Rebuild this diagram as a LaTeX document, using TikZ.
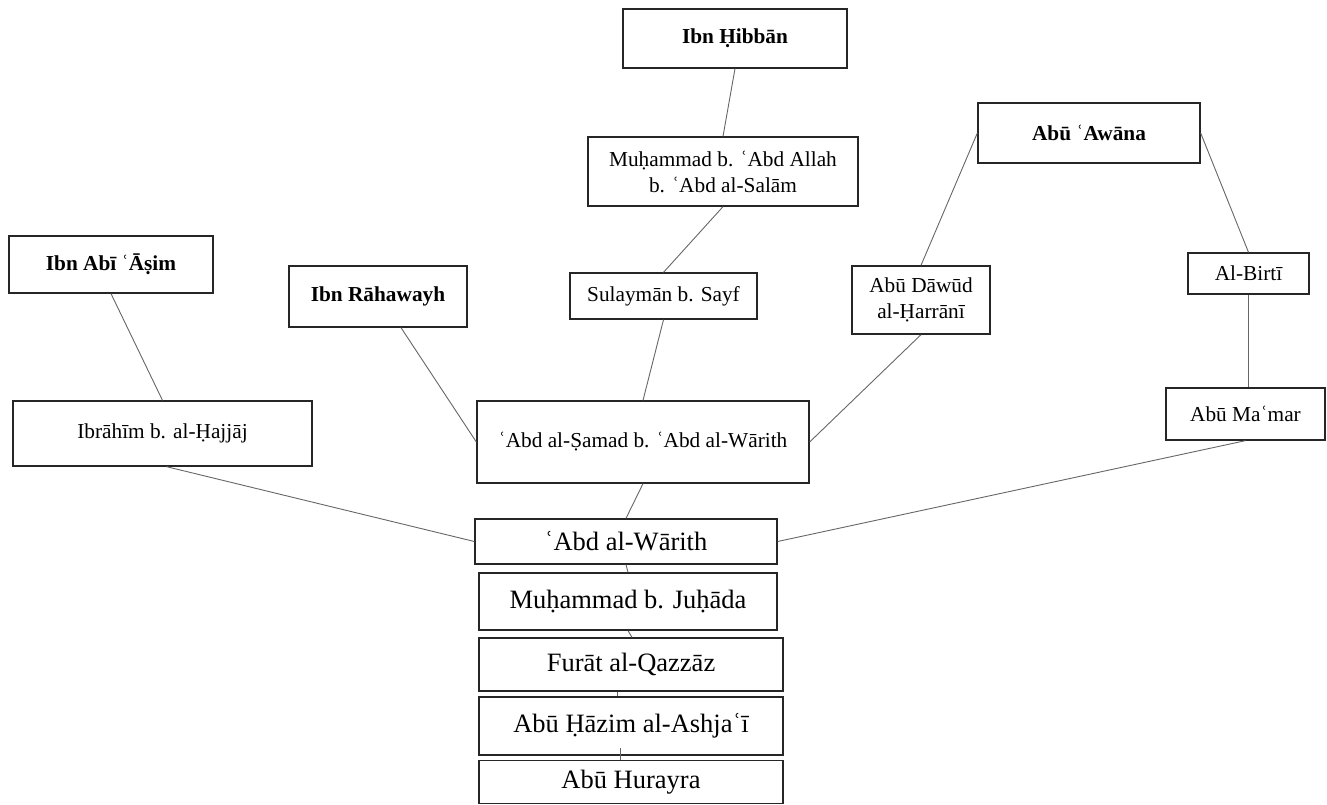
\documentclass[tikz,border=0pt]{standalone}
\usepackage{fontspec}
\setmainfont{Liberation Serif}
\usetikzlibrary{calc}
\begin{document}
\begin{tikzpicture}[x=1pt,y=-1pt,
  box/.style={draw=black!85, line width=1.3pt, fill=white, inner sep=0pt,
    align=center, font=\fontsize{21.3}{26}\selectfont},
  head/.style={box, font=\fontsize{21.3}{26}\selectfont\bfseries},
  chain/.style={box, font=\fontsize{26.5}{30}\selectfont},
  link/.style={draw=black!60, line width=0.9pt}]
\useasboundingbox (0,0) rectangle (1327,805);

% collectors
\node[head, minimum width=224, minimum height=59] (hibban) at (735,38.5) {Ibn Ḥibbān};
\node[head, minimum width=204, minimum height=57] (asim) at (111,264.5) {Ibn Abī ʿĀṣim};
\node[head, minimum width=178, minimum height=61] (rahaw) at (378,296.5) {Ibn Rāhawayh};
\node[head, minimum width=222, minimum height=60] (awana) at (1089,133) {Abū ʿAwāna};

% intermediate transmitters
\node[box, minimum width=270, minimum height=69] (mabd) at (723,171.5) {Muḥammad b. ʿAbd Allah\\b. ʿAbd al-Salām};
\node[box, minimum width=187, minimum height=46] (sulay) at (663.5,296) {Sulaymān b. Sayf};
\node[box, minimum width=138, minimum height=68] (dawud) at (921,300) {Abū Dāwūd\\al-Ḥarrānī};
\node[box, minimum width=121, minimum height=41] (birti) at (1248.5,273.5) {Al-Birtī};
\node[box, minimum width=159, minimum height=52] (mamar) at (1245.5,414) {Abū Maʿmar};
\node[box, minimum width=299, minimum height=65] (ibrah) at (162.5,433.5) {Ibrāhīm b. al-Ḥajjāj};
\node[box, minimum width=332, minimum height=82] (samad) at (643,442) {ʿAbd al-Ṣamad b. ʿAbd al-Wārith};

% common chain
\node[chain, minimum width=302, minimum height=45] (warith) at (626,541.5) {ʿAbd al-Wārith};
\node[chain, minimum width=298, minimum height=57] (juhada) at (628,601.5) {Muḥammad b. Juḥāda};
\node[chain, minimum width=304, minimum height=53] (furat) at (631,664.5) {Furāt al-Qazzāz};
\node[chain, minimum width=304, minimum height=58] (hazim) at (631,726) {Abū Ḥāzim al-Ashjaʿī};
\node[chain, minimum width=304, minimum height=43] (hurayra) at (631,782) {Abū Hurayra};

% connectors
\draw[link] (hibban.south) -- (mabd.north);
\draw[link] (mabd.south) -- (sulay.north);
\draw[link] (sulay.south) -- (samad.north);
\draw[link] (samad.south) -- (warith.north);
\draw[link] (asim.south) -- (ibrah.north);
\draw[link] ([xshift=23pt]rahaw.south) -- (samad.west);
\draw[link] (awana.west) -- (dawud.north);
\draw[link] (awana.east) -- (birti.north);
\draw[link] (birti.south) -- (birti.south |- mamar.north);
\draw[link] (mamar.south) -- (warith.east);
\draw[link] (dawud.south) -- (samad.east);
\draw[link] ([xshift=4pt]ibrah.south) -- (warith.west);
\draw[link] (warith.south) -- (juhada.north);
\draw[link] (juhada.south) -- ([xshift=1pt]furat.north);
\draw[link] ([xshift=-14pt]furat.south) -- ([xshift=-14pt]hazim.north);
\draw[link] ([xshift=-11pt,yshift=8pt]hazim.south) -- ([xshift=-11pt]hurayra.north);
\end{tikzpicture}
\end{document}
